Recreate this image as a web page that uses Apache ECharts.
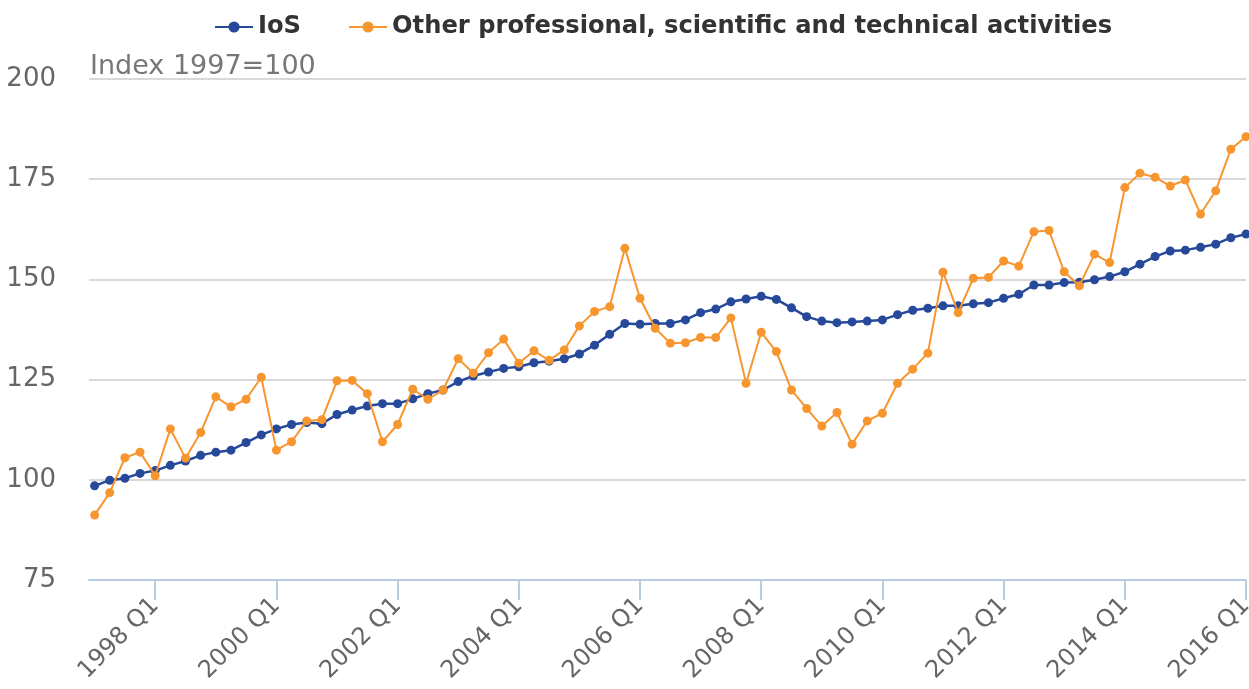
<!DOCTYPE html>
<html>
<head>
<meta charset="utf-8">
<script src="https://cdn.jsdelivr.net/npm/echarts@6/dist/echarts.min.js"></script>
<style>
html,body{margin:0;padding:0;background:#fff;overflow:hidden;width:100%;height:100%;}
#chart{position:absolute;left:0;top:0;width:1249px;height:689px;}
</style>
</head>
<body>
<div id="chart"></div>
<script>
// Quarters 1997 Q1 .. 2016 Q1
var quarters = [];
for (var y = 1997; y <= 2016; y++) {
  for (var q = 1; q <= 4; q++) {
    if (y === 2016 && q > 1) break;
    quarters.push(y + ' Q' + q);
  }
}
var seriesNames = ['IoS', 'Other professional, scientific and technical activities'];
var iosValues = [
  98.5, 99.9, 100.4, 101.6, 102.3, 103.6, 104.7, 106.1, 106.9, 107.4,
  109.3, 111.2, 112.7, 113.8, 114.3, 114.0, 116.3, 117.4, 118.4, 119.0,
  119.0, 120.2, 121.5, 122.4, 124.5, 125.9, 126.9, 127.8, 128.2, 129.2,
  129.6, 130.2, 131.4, 133.6, 136.3, 139.0, 138.8, 139.0, 139.0, 139.9,
  141.7, 142.6, 144.4, 145.1, 145.8, 145.0, 142.9, 140.7, 139.6, 139.2,
  139.4, 139.6, 139.9, 141.2, 142.3, 142.8, 143.4, 143.4, 143.9, 144.2,
  145.3, 146.3, 148.6, 148.6, 149.2, 149.3, 149.9, 150.7, 151.9, 153.8,
  155.7, 157.1, 157.3, 158.0, 158.8, 160.4, 161.3
];
var opstValues = [
  91.2, 96.8, 105.5, 106.9, 101.0, 112.7, 105.4, 111.8, 120.7, 118.2,
  120.1, 125.6, 107.4, 109.5, 114.7, 115.0, 124.7, 124.8, 121.5, 109.5,
  113.8, 122.6, 120.1, 122.4, 130.2, 126.6, 131.7, 135.1, 129.1, 132.2,
  129.8, 132.4, 138.4, 142.0, 143.2, 157.8, 145.3, 137.8, 134.1, 134.2,
  135.5, 135.5, 140.4, 124.1, 136.8, 132.0, 122.4, 117.8, 113.4, 116.8,
  108.9, 114.7, 116.6, 124.1, 127.6, 131.6, 151.8, 141.7, 150.3, 150.5,
  154.6, 153.3, 161.9, 162.2, 151.9, 148.4, 156.3, 154.2, 172.9, 176.5,
  175.5, 173.3, 174.8, 166.3, 172.1, 182.5, 185.6
];
var xTickIndices = [4, 12, 20, 28, 36, 44, 52, 60, 68, 76];
var yTicks = [75, 100, 125, 150, 175, 200];
var yAxisTitle = 'Index 1997=100';

function pairs(vals) {
  return vals.map(function (v, i) { return [i, v]; });
}

var chart = echarts.init(document.getElementById('chart'), null, {renderer: 'canvas', width: 1249, height: 689});
var FONT = 'DejaVu Sans';
chart.setOption({
  animation: false,
  textStyle: {fontFamily: FONT},
  color: ['#27499a', '#f7962f'],
  title: {
    text: yAxisTitle,
    left: 90,
    top: 53,
    padding: 0,
    textStyle: {fontFamily: FONT, fontSize: 27, fontWeight: 'normal', color: '#777777'}
  },
  legend: {
    top: 10,
    left: 209,
    itemWidth: 38,
    itemHeight: 14,
    itemGap: 47,
    textStyle: {fontFamily: FONT, fontSize: 24.2, fontWeight: 'bold', color: '#333333'},
    data: seriesNames
  },
  grid: {left: 89, right: 3, top: 79, bottom: 109, containLabel: false, outerBoundsMode: 'none'},
  xAxis: {
    type: 'value',
    min: -0.37,
    max: 76,
    axisLine: {show: true, lineStyle: {color: '#b8cbe3', width: 2}},
    axisTick: {show: true, length: 20, customValues: xTickIndices, lineStyle: {color: '#b8cbe3', width: 2}},
    axisLabel: {
      customValues: xTickIndices,
      rotate: 45,
      margin: 22,
      fontFamily: FONT,
      fontSize: 24,
      color: '#666666',
      formatter: function (v) { return quarters[Math.round(v)] || ''; }
    },
    splitLine: {show: false}
  },
  yAxis: {
    type: 'value',
    min: yTicks[0],
    max: yTicks[yTicks.length - 1],
    interval: 25,
    axisLine: {show: false},
    axisTick: {show: false},
    axisLabel: {fontFamily: FONT, fontSize: 26, color: '#666666', margin: 33, align: 'right'},
    splitLine: {show: true, lineStyle: {color: '#d9d9d9', width: 2}}
  },
  series: [
    {
      name: seriesNames[0],
      type: 'line',
      data: pairs(iosValues),
      symbol: 'circle',
      symbolSize: 9,
      lineStyle: {width: 2.5},
      z: 2
    },
    {
      name: seriesNames[1],
      type: 'line',
      data: pairs(opstValues),
      symbol: 'circle',
      symbolSize: 9,
      lineStyle: {width: 2},
      z: 3
    }
  ]
});
</script>
</body>
</html>
